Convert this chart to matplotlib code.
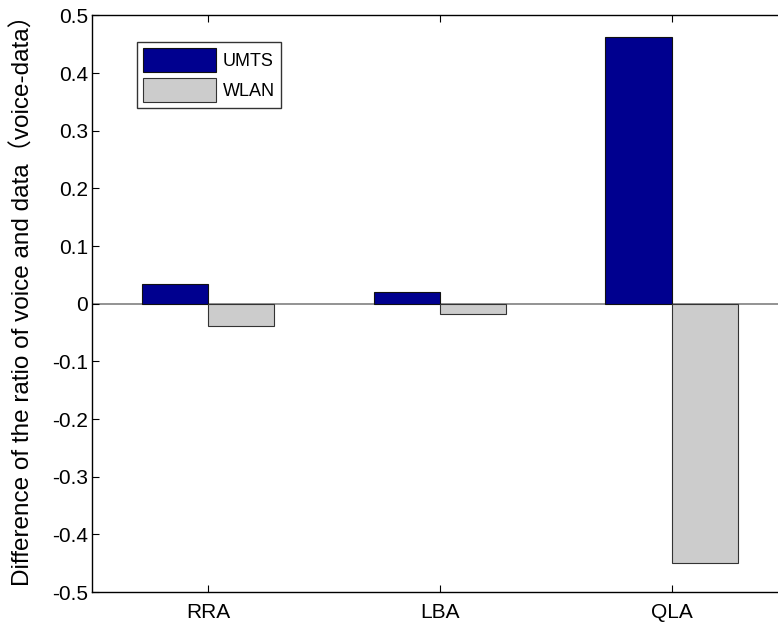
import matplotlib
matplotlib.use("Agg")
import matplotlib.pyplot as plt
import numpy as np

categories = ["RRA", "LBA", "QLA"]
umts = [0.035, 0.020, 0.462]
wlan = [-0.038, -0.018, -0.450]
series_names = ["UMTS", "WLAN"]
yticks = [-0.5, -0.4, -0.3, -0.2, -0.1, 0, 0.1, 0.2, 0.3, 0.4, 0.5]
ytick_labels = ["-0.5", "-0.4", "-0.3", "-0.2", "-0.1", "0", "0.1", "0.2", "0.3", "0.4", "0.5"]

plt.rcParams['font.family'] = ['Liberation Sans', 'Noto Sans CJK SC', 'DejaVu Sans']

W, H = 778, 626
fig = plt.figure(figsize=(W/100, H/100), dpi=100)
left, right, top, bottom = 92, 787.7, 15.5, 592
ax = fig.add_axes([left/W, 1-bottom/H, (right-left)/W, (bottom-top)/H])

x = np.arange(1, len(categories)+1)
bw = 0.286
ax.bar(x - bw/2, umts, bw, color="#00008F", edgecolor="#111111", linewidth=0.8, label=series_names[0], zorder=2)
ax.bar(x + bw/2, wlan, bw, color="#CCCCCC", edgecolor="#333333", linewidth=0.8, label=series_names[1], zorder=2)
ax.axhline(0, color="#808080", linewidth=1.2, zorder=1)

ax.set_xlim(0.5, 3.5)
ax.set_ylim(-0.5, 0.5)
ax.set_xticks(x)
ax.set_xticklabels(categories, fontsize=15)
ax.set_yticks(yticks)
ax.set_yticklabels(ytick_labels, fontsize=15)
ax.tick_params(direction='in', length=5, width=0.8, top=True, right=True)
ax.tick_params(axis='y', pad=3)
ax.tick_params(axis='x', pad=8)
for s in ax.spines.values():
    s.set_linewidth(1.0)

ax.set_ylabel("Difference of the ratio of voice and data（voice-data）", fontsize=17.5)
ax.yaxis.set_label_coords(-0.082, 0.5156)

leg = ax.legend(loc='upper left', bbox_to_anchor=(137/W, 1-42/H), bbox_transform=fig.transFigure,
                fontsize=13, frameon=True, fancybox=False, edgecolor='black',
                handlelength=4.0, handleheight=1.65, handletextpad=0.4,
                borderpad=0.35, labelspacing=0.33, borderaxespad=0)
leg.get_frame().set_linewidth(1.0)

fig.savefig("out.png", dpi=100)
